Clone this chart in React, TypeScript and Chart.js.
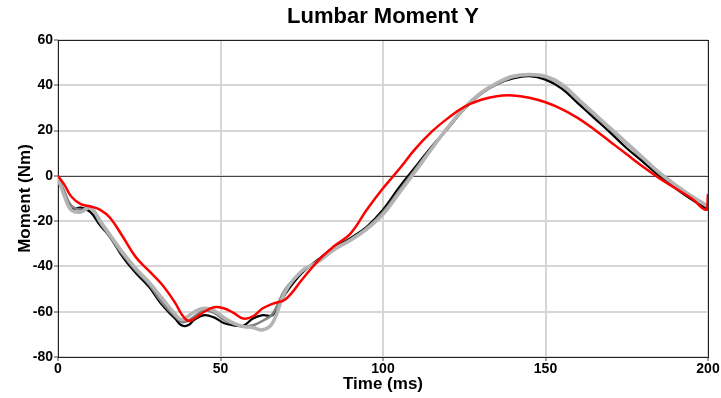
import React, { useEffect, useRef } from "react";
import { Chart, registerables } from "chart.js";

Chart.register(...registerables);

const timeMs = [0, 2, 4, 7, 10, 13, 16, 20, 24, 28, 32, 36, 38, 40, 42, 45, 48, 51, 54, 57, 60, 63, 66, 70, 75, 80, 85, 90, 95, 100, 105, 110, 115, 120, 125, 130, 135, 140, 145, 150, 155, 160, 165, 170, 175, 180, 185, 190, 195, 199.5, 200];

const redMoment = [0, -4, -9, -12.5, -13.5, -15, -18.5, -27, -36, -42, -48, -56, -61, -64, -63, -60, -58, -58.5, -60.5, -63, -62, -58.5, -56.5, -54.5, -46, -37.5, -31, -25.5, -15, -5.5, 3, 12, 19.5, 25.5, 30.5, 33.5, 35.2, 35.5, 34.5, 32.5, 29.5, 25.5, 20.5, 15, 9.5, 4, -1, -5.5, -10, -15, -8];

const blackMoment = [0, -8, -14.5, -14, -16, -22, -27, -36, -43, -49, -57, -63, -66, -66, -63.5, -61.5, -62.5, -65, -66, -66.2, -63, -61.5, -61.5, -52, -43, -37, -31.5, -27.5, -22.5, -15, -5, 4, 13, 21, 30, 36.5, 40.5, 43, 44, 42.5, 38.5, 32, 25.5, 19, 12.2, 6.2, 0, -5.5, -10.5, -14.5, -15];

const grayMoment = [0, -7, -13, -15, -14, -21, -27, -35, -42, -48, -56, -62, -64.5, -64, -62, -59.5, -60.5, -63.5, -65.5, -66.5, -66, -64, -61, -50, -42.5, -37.5, -32, -28, -23, -16, -6.5, 3, 12.5, 21, 29.5, 36, 40.5, 43.5, 44.5, 43.5, 40, 33.5, 27, 20.5, 14, 7.5, 1, -4.5, -9.5, -13.5, -14];

const lightGrayMoment = [-1, -9, -15, -16, -14, -20, -26, -34, -41, -47, -54, -61, -63.5, -62, -60, -58.5, -59.5, -62.5, -65, -66.5, -67, -68, -65, -51, -42, -38, -32.5, -28.5, -23.5, -17, -7.5, 2, 12, 21.5, 30, 36.5, 41, 44, 44.8, 44, 40.5, 34, 27.5, 21, 14.5, 8, 1.5, -4, -9, -13, -13.5];

const xTicks = [0, 50, 100, 150, 200];
const yTicks = [-80, -60, -40, -20, 0, 20, 40, 60];

const FONT = "'Liberation Sans', Arial, sans-serif";

const toPoints = (vals: number[]) => vals.map((v, i) => ({ x: timeMs[i], y: v }));

const framePlugin = {
  id: "frame",
  beforeDatasetsDraw(chart: any) {
    const { ctx, chartArea, scales } = chart;
    const y0 = scales.y.getPixelForValue(0);
    ctx.save();
    ctx.strokeStyle = "#444";
    ctx.lineWidth = 1;
    ctx.beginPath();
    ctx.moveTo(chartArea.left, Math.round(y0) + 0.5);
    ctx.lineTo(chartArea.right, Math.round(y0) + 0.5);
    ctx.stroke();
    ctx.strokeStyle = "#222";
    ctx.strokeRect(
      Math.round(chartArea.left) + 0.5,
      Math.round(chartArea.top) + 0.5,
      Math.round(chartArea.right - chartArea.left),
      Math.round(chartArea.bottom - chartArea.top)
    );
    ctx.restore();
  },
};

export default function App() {
  const ref = useRef<HTMLCanvasElement | null>(null);

  useEffect(() => {
    if (!ref.current) return;
    const chart = new Chart(ref.current, {
      type: "scatter",
      data: {
        datasets: [
          { data: toPoints(redMoment), borderColor: "#ff0000", borderWidth: 2.5, showLine: true, pointRadius: 0, tension: 0.4 },
          { data: toPoints(lightGrayMoment), borderColor: "#b4b4b4", borderWidth: 3.5, showLine: true, pointRadius: 0, tension: 0.4 },
          { data: toPoints(grayMoment), borderColor: "#808080", borderWidth: 2.5, showLine: true, pointRadius: 0, tension: 0.4 },
          { data: toPoints(blackMoment), borderColor: "#000000", borderWidth: 2.2, showLine: true, pointRadius: 0, tension: 0.4 },
        ],
      },
      options: {
        responsive: false,
        animation: false,
        layout: { padding: { left: 0, right: 13, top: 0, bottom: 0 } },
        plugins: {
          legend: { display: false },
          tooltip: { enabled: false },
          title: {
            display: true,
            text: "Lumbar Moment Y",
            fullSize: false,
            color: "#000",
            font: { family: FONT, size: 22, weight: "bold" },
            padding: { top: 4, bottom: 9.6 },
          },
        },
        scales: {
          x: {
            type: "linear",
            min: 0,
            max: 200,
            afterBuildTicks: (s: any) => { s.ticks = xTicks.map((v) => ({ value: v })); },
            afterFit: (s: any) => { s.height = 41; },
            ticks: { color: "#000", font: { family: FONT, size: 14, weight: "bold" }, padding: 0, maxRotation: 0 },
            grid: { color: "#d6d6d6", lineWidth: 2, tickLength: 4, tickColor: "#444", tickWidth: 1 },
            border: { display: false },
            title: {
              display: true,
              text: "Time (ms)",
              color: "#000",
              font: { family: FONT, size: 17, weight: "bold" },
              padding: 3,
            },
          },
          y: {
            type: "linear",
            min: -80,
            max: 60,
            afterBuildTicks: (s: any) => { s.ticks = yTicks.map((v) => ({ value: v })); },
            afterFit: (s: any) => { s.width = 58; },
            ticks: { color: "#000", font: { family: FONT, size: 14, weight: "bold" }, padding: 1 },
            grid: { color: "#d6d6d6", lineWidth: 2, tickLength: 4, tickColor: "#444", tickWidth: 1 },
            border: { display: false },
            title: {
              display: true,
              text: "Moment (Nm)",
              color: "#000",
              font: { family: FONT, size: 17, weight: "bold" },
              padding: 15,
            },
          },
        },
      },
      plugins: [framePlugin],
    });
    return () => chart.destroy();
  }, []);

  return (
    <div style={{ position: "absolute", left: 0, top: 0, width: 721, height: 398, background: "#fff" }}>
      <canvas ref={ref} width={721} height={398} />
    </div>
  );
}
